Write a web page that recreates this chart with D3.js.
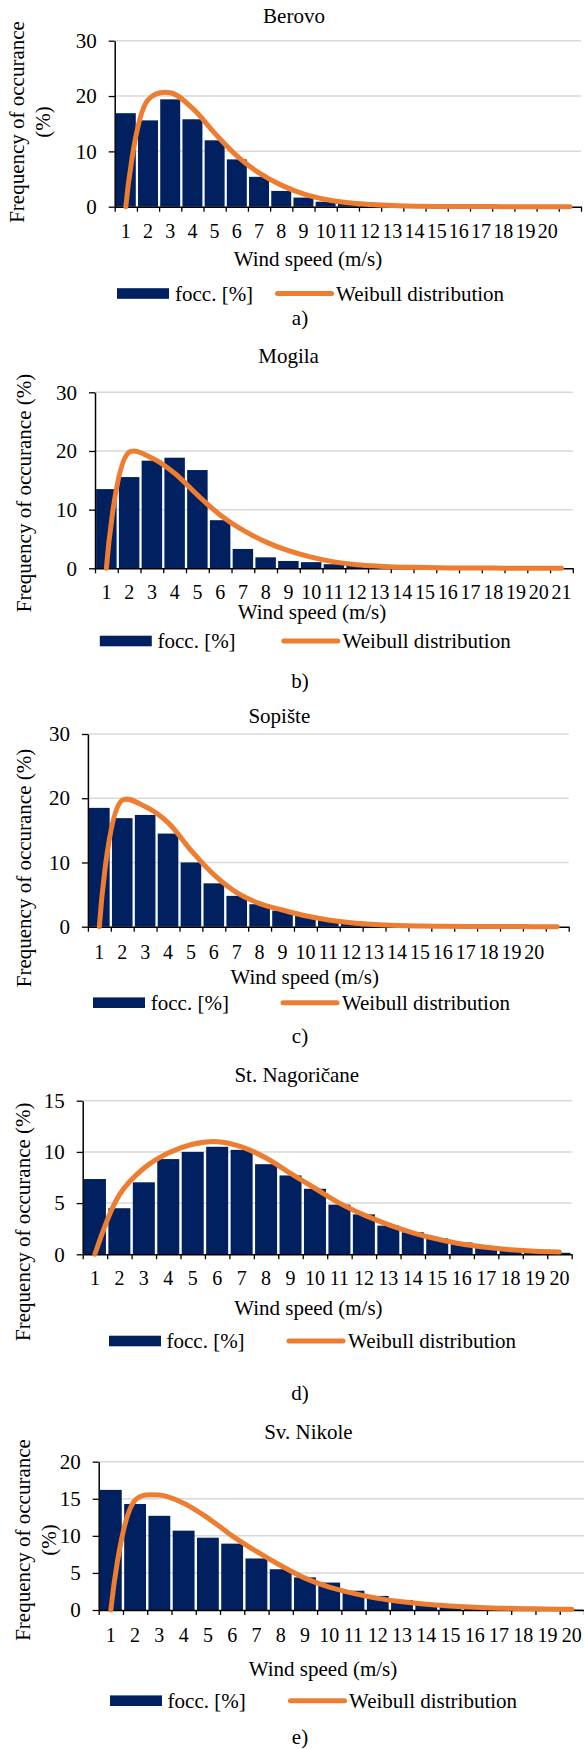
<!DOCTYPE html>
<html>
<head>
<meta charset="utf-8">
<script src="https://cdn.jsdelivr.net/npm/d3@7"></script>
<style>
body { margin: 0; background: #fff; }
</style>
</head>
<body>
<div id="chart"></div>
<script>
// wind speed categories (m/s)
var speeds20 = ["1","2","3","4","5","6","7","8","9","10","11","12","13","14","15","16","17","18","19","20"];
var speeds21 = ["1","2","3","4","5","6","7","8","9","10","11","12","13","14","15","16","17","18","19","20","21"];
var speeds21Blank = ["1","2","3","4","5","6","7","8","9","10","11","12","13","14","15","16","17","18","19","20",""];

var ticks30 = [0, 10, 20, 30];
var ticks20 = [0, 5, 10, 15, 20];
var ticks15 = [0, 5, 10, 15];

// frequency of occurance (%) and fitted weibull
var berovoFocc = [16.9, 15.6, 19.4, 15.8, 12.0, 8.55, 5.4, 2.85, 1.65, 0.9, 0.5, 0.25, 0.12, 0.06, 0.04, 0.03, 0.02, 0.01, 0.01, 0.01, 0];
var berovoWeibull = [0, 19.3, 20.6, 17.8, 13.3, 9.2, 6.1, 3.9, 2.3, 1.3, 0.7, 0.4, 0.2, 0.1, 0.05, 0.03, 0.02, 0.01, 0.01, 0.01, 0.01];

var mogilaFocc = [13.5, 15.55, 18.35, 18.85, 16.75, 8.2, 3.3, 1.87, 1.25, 1.05, 0.7, 0.4, 0.2, 0.1, 0.06, 0.04, 0.03, 0.02, 0.01, 0.01, 0.01];
var mogilaWeibull = [0, 19.8, 18.8, 16.2, 12.5, 9.1, 6.5, 4.5, 3.0, 1.9, 1.1, 0.6, 0.35, 0.2, 0.12, 0.07, 0.04, 0.03, 0.02, 0.01, 0.01];

var sopisteFocc = [18.5, 16.9, 17.4, 14.5, 10.0, 6.75, 4.8, 3.5, 2.5, 1.8, 1.1, 0.65, 0.35, 0.2, 0.12, 0.06, 0.04, 0.03, 0.02, 0.01, 0];
var sopisteWeibull = [0, 19.7, 18.7, 16.2, 11.9, 8.1, 5.3, 3.6, 2.6, 1.7, 1.05, 0.6, 0.35, 0.2, 0.12, 0.07, 0.04, 0.03, 0.02, 0.01, 0.01];

var nagoricaneFocc = [7.35, 4.5, 7.03, 9.3, 10.0, 10.5, 10.2, 8.8, 7.7, 6.4, 4.85, 3.9, 2.8, 2.15, 1.55, 1.15, 0.75, 0.42, 0.25, 0.15];
var nagoricaneWeibull = [0, 5.8, 8.4, 9.9, 10.75, 11.0, 10.5, 9.4, 7.9, 6.45, 5.0, 3.85, 2.9, 2.1, 1.5, 1.0, 0.68, 0.45, 0.3, 0.23];

var nikoleFocc = [16.2, 14.3, 12.7, 10.7, 9.75, 8.95, 6.95, 5.5, 4.4, 3.7, 2.6, 1.9, 1.35, 0.9, 0.6, 0.4, 0.25, 0.15, 0.1, 0.05];
var nikoleWeibull = [0, 14.8, 15.5, 14.4, 12.4, 10.0, 7.9, 6.0, 4.3, 3.1, 2.25, 1.57, 1.1, 0.76, 0.54, 0.36, 0.25, 0.18, 0.12, 0.1];

var barColor = "#002060";
var lineColor = "#ed7d31";
var fontSize = "21px";
var fontFamily = "'Liberation Serif', 'Times New Roman', serif";

var svg = d3.select("#chart").append("svg")
    .attr("width", 584)
    .attr("height", 1749);

svg.append("rect").attr("width", 584).attr("height", 1749).attr("fill", "#fff");

var panels = [
  { title: "Berovo", caption: "a)", labels: speeds21Blank, focc: berovoFocc, weibull: berovoWeibull,
    yMax: 30, yTicks: ticks30, left: 114.7, right: 581, top: 40.7, bottom: 206.7,
    titleX: 294, titleY: 22.7, tickY: 238, xTitleX: 308, xTitleY: 265.5,
    yTitle: ["Frequency of occurance", "(%)"], yTitleX: [17, 43], yTitleY: 122,
    legY: 293.5, legRectX: 117, legTextX: 175, legLineX: 277.5, legText2X: 336,
    capY: 325 },
  { title: "Mogila", caption: "b)", labels: speeds21, focc: mogilaFocc, weibull: mogilaWeibull,
    yMax: 30, yTicks: ticks30, left: 95, right: 572.8, top: 392.3, bottom: 568.3,
    titleX: 288.6, titleY: 362.7, tickY: 599.3, xTitleX: 312, xTitleY: 619.3,
    yTitle: ["Frequency of occurance (%)"], yTitleX: [24], yTitleY: 493,
    legY: 641, legRectX: 99.8, legTextX: 157.5, legLineX: 283.8, legText2X: 342.6,
    capY: 688 },
  { title: "Sopište", caption: "c)", labels: speeds21Blank, focc: sopisteFocc, weibull: sopisteWeibull,
    yMax: 30, yTicks: ticks30, left: 87.9, right: 568.7, top: 734, bottom: 926.7,
    titleX: 279.3, titleY: 723.3, tickY: 959.3, xTitleX: 304.7, xTitleY: 984,
    yTitle: ["Frequency of occurance (%)"], yTitleX: [24], yTitleY: 868,
    legY: 1002.7, legRectX: 93, legTextX: 150.8, legLineX: 283, legText2X: 341.9,
    capY: 1043 },
  { title: "St. Nagoričane", caption: "d)", labels: speeds20, focc: nagoricaneFocc, weibull: nagoricaneWeibull,
    yMax: 15, yTicks: ticks15, left: 82.7, right: 571.7, top: 1100.7, bottom: 1254.3,
    titleX: 296.8, titleY: 1081.7, tickY: 1285, xTitleX: 308.4, xTitleY: 1315,
    yTitle: ["Frequency of occurance (%)"], yTitleX: [22.3], yTitleY: 1221.7,
    legY: 1341, legRectX: 109, legTextX: 166.5, legLineX: 289, legText2X: 348,
    capY: 1400 },
  { title: "Sv. Nikole", caption: "e)", labels: speeds20, focc: nikoleFocc, weibull: nikoleWeibull,
    yMax: 20, yTicks: ticks20, left: 98.7, right: 584, top: 1461.7, bottom: 1610,
    titleX: 308.4, titleY: 1439.3, tickY: 1641.7, xTitleX: 323, xTitleY: 1676,
    yTitle: ["Frequency of occurance", "(%)"], yTitleX: [22.3, 48.4], yTitleY: 1540,
    legY: 1700.7, legRectX: 110, legTextX: 167.6, legLineX: 290.5, legText2X: 349,
    capY: 1744 }
];

function addText(g, x, y, str, anchor, size) {
  return g.append("text")
    .attr("x", x).attr("y", y)
    .attr("text-anchor", anchor || "start")
    .style("font-family", fontFamily)
    .style("font-size", size || fontSize)
    .style("fill", "#000")
    .text(str);
}

function drawPanel(p) {
  var g = svg.append("g");
  var n = p.labels.length;

  var x = d3.scaleBand()
      .domain(d3.range(n))
      .range([p.left, p.right])
      .paddingInner(0.1)
      .paddingOuter(0.05);
  var xEdge = d3.scaleLinear().domain([0, n]).range([p.left, p.right]);
  var y = d3.scaleLinear().domain([0, p.yMax]).range([p.bottom, p.top]);

  // gridlines
  g.selectAll(".grid").data(p.yTicks.filter(function(d){ return d > 0; }))
    .enter().append("line")
      .attr("x1", p.left).attr("x2", p.right)
      .attr("y1", function(d){ return y(d); })
      .attr("y2", function(d){ return y(d); })
      .attr("stroke", "#d9d9d9")
      .attr("stroke-width", 1.5);

  addText(g, p.titleX, p.titleY, p.title, "middle");

  // bars
  g.selectAll(".bar").data(p.focc)
    .enter().append("rect")
      .attr("x", function(d, i){ return x(i); })
      .attr("y", function(d){ return y(d); })
      .attr("width", x.bandwidth())
      .attr("height", function(d){ return y(0) - y(d); })
      .attr("fill", barColor);

  // x axis: tick marks at category edges
  var xAxis = g.append("g")
      .attr("transform", "translate(0," + p.bottom + ")")
      .call(d3.axisBottom(xEdge).tickValues(d3.range(n + 1)).tickFormat("").tickSize(5).tickSizeOuter(0));
  xAxis.select(".domain").attr("stroke", "#000").attr("stroke-width", 1.5);
  xAxis.selectAll(".tick line").attr("stroke", "#000").attr("stroke-width", 1.3);

  p.labels.forEach(function(d, i) {
    addText(g, x(i) + x.bandwidth() / 2, p.tickY, d, "middle", "20px");
  });

  // y axis
  var yAxis = g.append("g")
      .attr("transform", "translate(" + p.left + ",0)")
      .call(d3.axisLeft(y).tickValues(p.yTicks).tickSize(6).tickSizeOuter(0).tickPadding(12));
  yAxis.select(".domain").attr("stroke", "#000").attr("stroke-width", 1.5);
  yAxis.selectAll(".tick line").attr("stroke", "#000").attr("stroke-width", 1.3);
  yAxis.selectAll(".tick text")
      .style("font-size", fontSize)
      .style("font-family", fontFamily)
      .style("fill", "#000");

  // weibull curve
  var line = d3.line()
      .x(function(d, i){ return x(i) + x.bandwidth() / 2; })
      .y(function(d){ return y(d); })
      .curve(d3.curveCatmullRom.alpha(0.5));
  g.append("path")
    .datum(p.weibull)
    .attr("d", line)
    .attr("fill", "none")
    .attr("stroke", lineColor)
    .attr("stroke-width", 5)
    .attr("stroke-linecap", "round")
    .attr("stroke-linejoin", "round");

  // axis titles
  addText(g, p.xTitleX, p.xTitleY, "Wind speed (m/s)", "middle");

  p.yTitle.forEach(function(t, i) {
    addText(g, 0, 0, t, "middle")
      .attr("transform", "translate(" + p.yTitleX[i] + "," + p.yTitleY + ") rotate(-90)")
      .attr("dy", "0.35em");
  });

  // legend
  g.append("rect")
    .attr("x", p.legRectX).attr("y", p.legY - 5.3)
    .attr("width", 52).attr("height", 10.6)
    .attr("fill", barColor);
  addText(g, p.legTextX, p.legY + 7, "focc. [%]");
  g.append("line")
    .attr("x1", p.legLineX).attr("x2", p.legLineX + 54)
    .attr("y1", p.legY).attr("y2", p.legY)
    .attr("stroke", lineColor)
    .attr("stroke-width", 5)
    .attr("stroke-linecap", "round");
  addText(g, p.legText2X, p.legY + 7, "Weibull distribution");

  // caption
  addText(g, 300, p.capY, p.caption, "middle");
}

panels.forEach(drawPanel);
</script>
</body>
</html>
